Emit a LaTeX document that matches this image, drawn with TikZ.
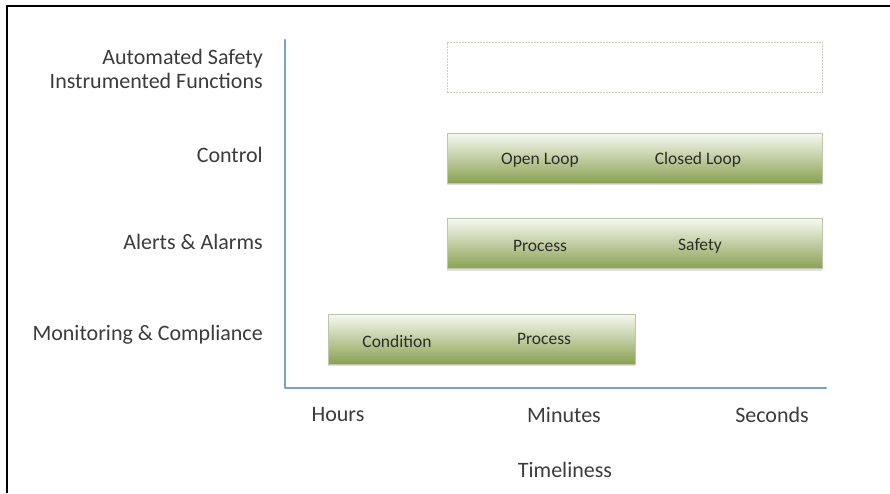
\documentclass[tikz,border=0pt]{standalone}
\usepackage{fontspec}
\setmainfont{Carlito}
\usetikzlibrary{shadows}
\definecolor{axisblue}{RGB}{122,160,208}
\definecolor{labelgrey}{RGB}{60,60,60}
\definecolor{innergrey}{RGB}{45,45,40}
\definecolor{greentop}{RGB}{247,249,242}
\definecolor{greenbot}{RGB}{138,161,82}
\definecolor{greenedge}{RGB}{190,198,170}
\definecolor{dashedge}{RGB}{205,205,192}
\tikzset{
  greenbox/.style={draw=greenedge, line width=0.8pt, top color=greentop, bottom color=greenbot,
    minimum height=50pt, inner sep=0pt,
    drop shadow={shadow xshift=0pt, shadow yshift=-2pt, opacity=0.25}},
  emptybox/.style={draw=dashedge, dash pattern=on 2pt off 1pt, line width=0.8pt, fill=white,
    minimum height=50pt, inner sep=0pt},
  rowlabel/.style={anchor=east, align=right, text=labelgrey, font=\fontsize{22}{24}\selectfont, inner sep=0pt},
  inlabel/.style={text=innergrey, font=\fontsize{17.5}{20}\selectfont, inner sep=0pt},
  ticklabel/.style={text=labelgrey, font=\fontsize{22}{24}\selectfont, inner sep=0pt},
  axisline/.style={draw=axisblue, line width=2.5pt, line cap=round, line join=round}
}
\begin{document}
\begin{tikzpicture}[x=1pt,y=-1pt]
  \useasboundingbox (0,0) rectangle (890,493);
  \fill[white] (0,0) rectangle (890,493);
  % frame edges
  \draw[line width=2pt, black] (7,493) -- (7,6) -- (890,6);

  % axes
  \coordinate (ytop) at (285,40);
  \coordinate (origin) at (285,388);
  \coordinate (xend) at (826,388);
  \draw[axisline] (ytop) -- (origin) -- (xend);

  % row labels
  \node[rowlabel] (asif) at (263,69) {Automated Safety\\Instrumented Functions};
  \node[rowlabel] (ctlL) at (263,155) {Control};
  \node[rowlabel] (alrL) at (263,242) {Alerts \& Alarms};
  \node[rowlabel] (monL) at (263,335) {Monitoring \& Compliance};

  % bars
  \node[emptybox, minimum width=375pt] (sifbox) at (634.5,67) {};
  \node[greenbox, minimum width=375pt] (ctlbox) at (634.5,158) {};
  \node[greenbox, minimum width=375pt] (alrbox) at (634.5,243.5) {};
  \node[greenbox, minimum width=307pt] (monbox) at (481.5,339) {};

  % bar contents
  \node[inlabel] (open) at (540,160) {Open Loop};
  \node[inlabel] (closed) at (698,160) {Closed Loop};
  \node[inlabel] (aproc) at (540,246) {Process};
  \node[inlabel] (safe) at (700,246) {Safety};
  \node[inlabel] (cond) at (397,341) {Condition};
  \node[inlabel] (mproc) at (544,339) {Process};

  % time scale
  \node[ticklabel] (hours) at (338,415) {Hours};
  \node[ticklabel] (minutes) at (564,415) {Minutes};
  \node[ticklabel] (seconds) at (772,415) {Seconds};
  \node[ticklabel] (timeliness) at (565,470) {Timeliness};
\end{tikzpicture}
\end{document}
